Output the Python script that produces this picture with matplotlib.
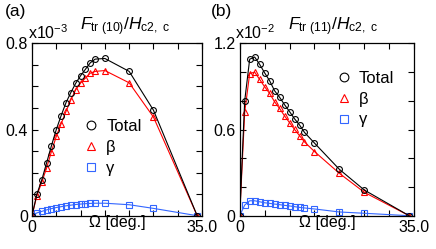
import numpy as np
import matplotlib
matplotlib.use('Agg')
import matplotlib.pyplot as plt

plt.rcParams['font.family'] = 'Liberation Sans'
plt.rcParams['mathtext.fontset'] = 'custom'
plt.rcParams['mathtext.rm'] = 'Liberation Sans'
plt.rcParams['mathtext.it'] = 'Liberation Sans:italic'
plt.rcParams['font.size'] = 11.5

# angle Omega [deg.]
omega = [0, 1, 2, 3, 4, 5, 6, 7, 8, 9, 10, 11, 12, 13, 15, 20, 25, 34]

# (a) F_tr(10)/H_c2,c  (x1e-3)
total_a = [0, 0.10, 0.165, 0.245, 0.325, 0.40, 0.465, 0.525, 0.572, 0.615,
           0.65, 0.68, 0.71, 0.727, 0.73, 0.67, 0.49, 0]
beta_a = [0, 0.093, 0.155, 0.221, 0.298, 0.368, 0.427, 0.484, 0.538, 0.585,
          0.616, 0.639, 0.662, 0.670, 0.674, 0.617, 0.458, 0]
gamma_a = [0, 0.013, 0.02, 0.027, 0.033, 0.038, 0.042, 0.046, 0.049, 0.052,
           0.054, 0.056, 0.057, 0.058, 0.058, 0.051, 0.034, 0]

# (b) F_tr(11)/H_c2,c  (x1e-2)
total_b = [0, 0.80, 1.09, 1.105, 1.054, 0.995, 0.94, 0.87, 0.825, 0.773,
           0.725, 0.675, 0.632, 0.58, 0.506, 0.323, 0.179, 0]
beta_b = [0, 0.72, 0.99, 1.0, 0.949, 0.898, 0.852, 0.793, 0.747, 0.695,
          0.648, 0.601, 0.558, 0.514, 0.447, 0.295, 0.163, 0]
gamma_b = [0, 0.074, 0.104, 0.104, 0.097, 0.09, 0.086, 0.081, 0.077, 0.072,
           0.068, 0.063, 0.058, 0.054, 0.047, 0.026, 0.017, 0]

W, H = 436, 249
fig = plt.figure(figsize=(W/100, H/100), dpi=100)

blue = '#3366ff'

def panel(rect, tot, bet, gam, ymax, ystep, ylabels, tag, tag_x, exp, title, leg_pos):
  ax = fig.add_axes(rect)
  ms = 4.2
  ax.plot(omega, gam, '-', color=blue, lw=0.8, marker='s', ms=ms, mfc='none', mew=0.8, label='γ')
  ax.plot(omega, bet, '-', color='red', lw=0.8, marker='^', ms=ms, mfc='none', mew=0.8, label='β')
  ax.plot(omega, tot, '-', color='black', lw=0.8, marker='o', ms=ms, mfc='none', mew=0.8, label='Total')
  ax.set_xlim(0, 35)
  ax.set_ylim(0, ymax)
  ax.set_xticks(range(0, 36, 5))
  ax.set_xticklabels(['0', '', '', '', '', '', '', '35.0'])
  yt = np.arange(0, ymax + 1e-9, ystep)
  ax.set_yticks(yt)
  ax.set_yticklabels([ylabels.get(round(v, 2), '') for v in yt])
  ax.tick_params(direction='in', length=4, width=0.8, top=True, right=True, pad=3)
  for s in ax.spines.values():
    s.set_linewidth(0.9)
  ax.set_xlabel('Ω [deg.]', labelpad=-14)
  h, l = ax.get_legend_handles_labels()
  leg = ax.legend(h[::-1], l[::-1], loc='upper left', bbox_to_anchor=leg_pos, frameon=False,
                  handlelength=0.6, handletextpad=0.6, markerscale=1.5, labelspacing=0.35,
                  borderpad=0, fontsize=12)
  for ln in leg.get_lines():
    ln.set_linestyle('none')
  x0 = rect[0]
  top = rect[1] + rect[3]
  fig.text(tag_x, 0.985, tag, ha='left', va='top', fontsize=12.5)
  fig.text(x0 - 0.01, top + 0.005, 'x10$^{' + exp + '}$', ha='left', va='bottom', fontsize=11.5)
  fig.text(x0 + 0.11, top + 0.022, title, ha='left', va='bottom', fontsize=12.5)
  return ax

panel([0.0734, 0.1337, 0.390, 0.692], total_a, beta_a, gamma_a, 0.8, 0.1,
      {0.0: '0', 0.4: '0.4', 0.8: '0.8'}, '(a)', 0.011, '-3',
      r'$F_{\rm tr\ (10)}/H_{\rm c2,\ c}$', (0.27, 0.61))
panel([0.5498, 0.1337, 0.400, 0.692], total_b, beta_b, gamma_b, 1.2, 0.2,
      {0.0: '0', 0.6: '0.6', 1.2: '1.2'}, '(b)', 0.484, '-2',
      r'$F_{\rm tr\ (11)}/H_{\rm c2,\ c}$', (0.52, 0.89))

fig.savefig('out.png', dpi=100)
